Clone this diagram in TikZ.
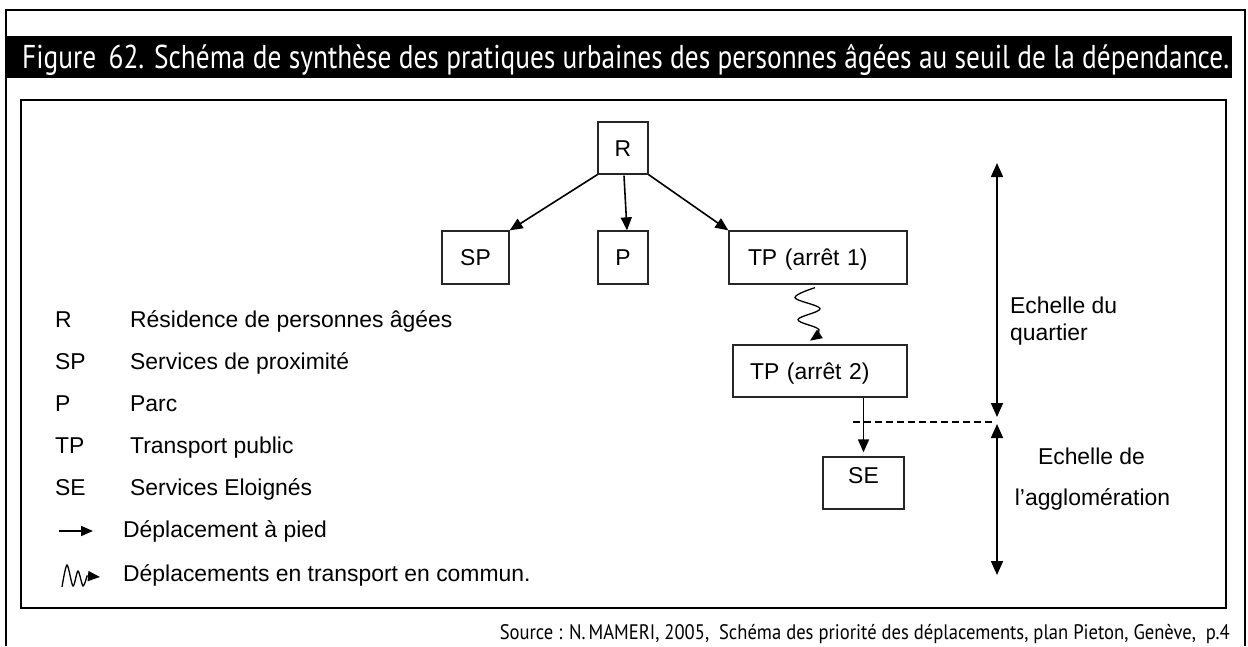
\documentclass[tikz,border=0pt]{standalone}
\usepackage{fontspec}
\setmainfont{Liberation Sans}
\newfontfamily\titlefont{PT Sans}
\usetikzlibrary{arrows.meta,calc}
\tikzset{
  lbl/.style={font=\fontsize{22.9}{27}\selectfont, inner sep=0pt},
  box/.style={draw=black!85, line width=1.3pt, font=\fontsize{22.9}{27}\selectfont, inner sep=0pt, text height=16pt, text depth=0pt},
  walk/.style={line width=1.6pt, -{Triangle[length=13pt,width=11pt]}},
  transit/.style={line width=1.3pt, -{Triangle[length=12pt,width=10pt]}},
  scalearrow/.style={line width=1.6pt, {Triangle[length=14pt,width=12pt]}-{Triangle[length=14pt,width=12pt]}},
}
\begin{document}
\begin{tikzpicture}[x=1pt,y=-1pt]
\useasboundingbox (0,0) rectangle (1248,646);
\fill[white] (0,0) rectangle (1248,646);
% outer frame
\draw[line width=2.8pt] (6,646) -- (6,10) -- (1245,10) -- (1245,646);
% title bar
\fill[black] (6,36) rectangle (1232,78);
\node[anchor=base west, inner sep=0pt, text=white] (title) at (22,68) {\resizebox{1207pt}{\height}{\titlefont\fontsize{33}{35}\selectfont Figure\hspace{0.45em}62. Schéma de synthèse des pratiques urbaines des personnes âgées au seuil de la dépendance.}};
% inner box
\draw[line width=2.2pt] (21,100) rectangle (1226,608);

% boxes
\node[box, minimum width=50pt, minimum height=52pt] (R) at (623,148) {R};
\node[box, minimum width=67pt, minimum height=53pt] (SP) at (475.5,257.5) {SP};
\node[box, minimum width=50pt, minimum height=53pt] (P) at (623,257.5) {P};
\node[box, text width=140pt, inner xsep=19pt, align=left, minimum height=53pt] (TP1) at (818,257.5) {TP (arrêt 1)};
\node[box, text width=140pt, inner xsep=17pt, align=left, minimum height=52pt] (TP2) at (820,371) {TP (arrêt 2)};
\node[box, minimum width=81pt, text height=26pt, text depth=26pt] (SE) at (863.5,483) {SE};

% walking connectors
\draw[walk] (R.south west) -- (SP.north east);
\draw[walk] ($(R.south)+(1,1)$) -- ($(P.north)+(4,0)$);
\draw[walk] (R.south east) -- (TP1.north west);
\draw[walk, shorten >=4pt] (TP2.south -| SE.north) -- (SE.north);

% transit connector (wavy)
\begin{scope}[shift={(TP1.south)}]
\draw[transit] plot[smooth, tension=0.6] coordinates {(-3,3) (-23,13) (2,24) (-20,35) (1,45) (-8,56)};
\end{scope}

% scale arrows
\coordinate (qt) at (997,163);
\coordinate (qm) at (997,417);
\coordinate (am) at (997,424);
\coordinate (ab) at (997,575);
\draw[scalearrow] (qt) -- (qm);
\draw[scalearrow] (am) -- (ab);
\coordinate (d1) at (853,422);
\draw[line width=1.3pt, dash pattern=on 7pt off 4pt] (d1) -- ($(d1 -| qm)+(-2,0)$);

\node[lbl, anchor=base west] (e1) at (1010,313) {Echelle du};
\node[lbl, anchor=base west] (e2) at (1010,340) {quartier};
\node[lbl, anchor=base] (e3) at (1091.5,464) {Echelle de};
\node[lbl, anchor=base] (e4) at (1092.5,505) {l’agglomération};

% legend
\node[lbl, anchor=base west] (a1) at (55,327) {R};
\node[lbl, anchor=base west] (t1) at (130,327) {Résidence de personnes âgées};
\node[lbl, anchor=base west] (a2) at (55,369) {SP};
\node[lbl, anchor=base west] (t2) at (130,369) {Services de proximité};
\node[lbl, anchor=base west] (a3) at (55,411) {P};
\node[lbl, anchor=base west] (t3) at (130,411) {Parc};
\node[lbl, anchor=base west] (a4) at (55,453) {TP};
\node[lbl, anchor=base west] (t4) at (130,453) {Transport public};
\node[lbl, anchor=base west] (a5) at (55,495) {SE};
\node[lbl, anchor=base west] (t5) at (130,495) {Services Eloignés};
\coordinate (lw1) at (59,531);
\coordinate (lw2) at (93,531);
\draw[walk, -{Triangle[length=12pt,width=10pt]}] (lw1) -- (lw2);
\node[lbl, anchor=base west] (t6) at (123,537) {Déplacement à pied};
\draw[transit] plot[smooth, tension=0.5] coordinates {(62,587) (67,565) (73,586) (78,571) (83,586) (87,576)} -- (100,577);
\node[lbl, anchor=base west] (t7) at (123,581) {Déplacements en transport en commun.};

% source
\node[anchor=base east, inner sep=0pt] (src) at (1230,639) {\resizebox{730pt}{\height}{\titlefont\fontsize{21}{23}\selectfont Source : N.\,MAMERI, 2005,\ \ Schéma des priorité des déplacements, plan Pieton, Genève,\ \ p.4}};
\end{tikzpicture}
\end{document}
